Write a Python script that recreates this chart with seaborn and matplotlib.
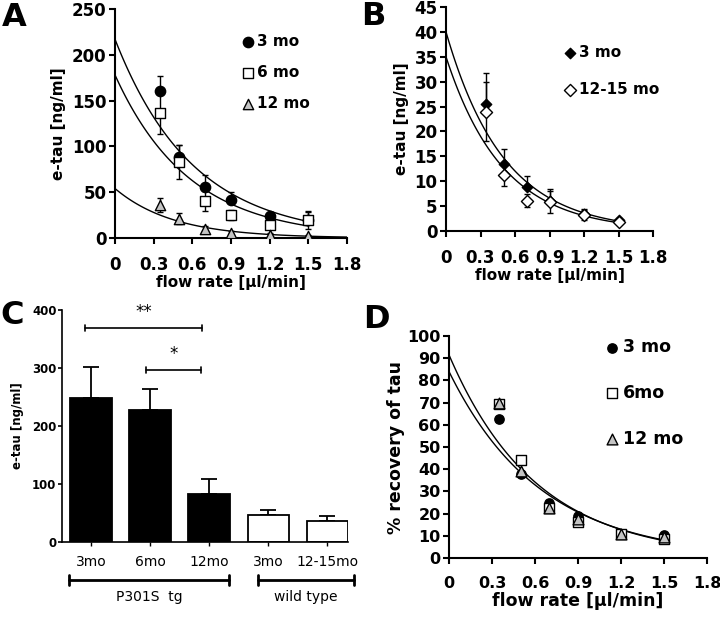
import numpy as np
import pandas as pd
import matplotlib
matplotlib.use("Agg")
import matplotlib.pyplot as plt
import matplotlib.transforms as mtransforms
import seaborn as sns

# flow rates used for the microdialysis probe (ul/min)
flow = [0.35, 0.5, 0.7, 0.9, 1.2, 1.5]

# panel A: e-tau in P301S tg mice (ng/ml)
a_3mo = [160, 88, 56, 41.5, 24, 20]
a_3mo_err = [17, 14, 12.5, 8.5, 4, 8]
a_6mo = [136, 83, 40, 25, 14, 19.5]
a_6mo_err = [22, 19, 11, 5.5, 3, 10]
a_12mo = [36, 21, 10, 6, 3, 2]
a_12mo_err = [8, 6, 3, 2, 2, 1.5]
# exponential trendlines: value at 0, decay rate, end of line
a_fit_amp = [217, 178, 54]
a_fit_rate = [1.66, 1.74, 2.2]
a_fit_end = [1.52, 1.5, 1.8]

# panel B: e-tau in wild type mice (ng/ml)
b_3mo = [25.5, 13.5, 8.8, 6.0, 3.5, 2.2]
b_3mo_err = [6.3, 3.0, 2.3, 2.4, 1.0, 0.4]
b_old = [24, 11.3, 6.1, 5.8, 3.2, 1.9]
b_old_err = [6, 2.3, 1.3, 2.2, 1.0, 0.3]
b_fit_amp = [40, 35]
b_fit_rate = [2.0, 2.03]
b_fit_end = [1.5, 1.5]

# panel C: extrapolated e-tau at zero flow
c_keys = ["tg 3mo", "tg 6mo", "tg 12mo", "wt 3mo", "wt 12-15mo"]
c_labels = ["3mo", "6mo", "12mo", "3mo", "12-15mo"]
c_vals = [249, 228, 82, 46, 36]
c_err = [53, 36, 27, 9, 8.5]

# panel D: % recovery of tau
d_3mo = [62.5, 38, 25, 19, 11, 10.5]
d_6mo = [69.5, 44, 22.5, 16, 11, 8.5]
d_12mo = [70, 39, 22.5, 17.5, 11, 9.5]
d_fit_amp = [91.5, 84]
d_fit_rate = [1.64, 1.56]
d_fit_end = [1.5, 1.5]

xtick_vals = [0, 0.3, 0.6, 0.9, 1.2, 1.5, 1.8]
xtick_labels = ["0", "0.3", "0.6", "0.9", "1.2", "1.5", "1.8"]


def curves(amps, rates, ends):
    rows = []
    for i, (a, k, e) in enumerate(zip(amps, rates, ends)):
        xs = np.linspace(0, e, 120)
        for x in xs:
            rows.append({"fit": i, "x": x, "y": a * np.exp(-k * x)})
    return pd.DataFrame(rows)


def style_axis(ax, fs, lw=1.5):
    sns.despine(ax=ax)
    for s in ["left", "bottom"]:
        ax.spines[s].set_linewidth(lw)
        ax.spines[s].set_color("black")
    ax.tick_params(axis="both", labelsize=fs, width=lw, length=4, color="black")
    for lab in ax.get_xticklabels() + ax.get_yticklabels():
        lab.set_fontweight("bold")


def flow_panel(ax, series, errs, fit, markers, faces, sizes, ylim, ystep, fs, leg):
    names = list(series.keys())
    for name in names:
        lo, hi = errs[name]
        if hi is None:
            continue
        ax.errorbar(flow, series[name], yerr=[lo, hi], fmt="none", ecolor="black",
                    elinewidth=1, capsize=2.2, capthick=1, zorder=1)
    sns.lineplot(data=fit, x="x", y="y", units="fit", estimator=None, color="black",
                 lw=1, ax=ax, legend=False, zorder=2)
    df = pd.DataFrame({"flow": flow * len(names),
                       "val": sum([list(series[n]) for n in names], []),
                       "age": sum([[n] * len(flow) for n in names], [])})
    for name in names:
        sub = df[df["age"] == name]
        sns.scatterplot(data=sub, x="flow", y="val", marker=markers[name], color=faces[name],
                        edgecolor="black", linewidth=1, s=sizes[name], ax=ax, label=name,
                        zorder=3)
    ax.set_xlim(0, 1.8)
    ax.set_ylim(0, ylim)
    ax.set_xticks(xtick_vals)
    ax.set_xticklabels(xtick_labels)
    ax.set_yticks(np.arange(0, ylim + 0.1, ystep))
    ax.set_xlabel("flow rate [\u00b5l/min]", fontsize=fs - 1, fontweight="bold", labelpad=1)
    style_axis(ax, fs)
    ax.tick_params(axis="x", pad=9)
    ax.tick_params(axis="y", pad=2)
    sns.move_legend(ax, "upper left", bbox_to_anchor=leg["anchor"], title=None, frameon=False,
                    prop={"weight": "bold", "size": leg["size"]}, labelspacing=leg["spacing"],
                    handletextpad=0.1, handlelength=1.0, borderaxespad=0, borderpad=0)


sns.set_style("ticks")
plt.rcParams["font.family"] = ["DejaVu Sans"]
plt.rcParams.update({"text.color": "black", "axes.labelcolor": "black",
                     "xtick.color": "black", "ytick.color": "black",
                     "axes.edgecolor": "black"})

fig = plt.figure(figsize=(7.2, 6.17), dpi=100)
axA = fig.add_axes([115 / 720, 1 - 238 / 617, 232 / 720, 229 / 617])
axB = fig.add_axes([446 / 720, 1 - 231 / 617, 207 / 720, 224 / 617])
axC = fig.add_axes([62 / 720, 1 - 542 / 617, 286 / 720, 232 / 617])
axD = fig.add_axes([449 / 720, 1 - 558 / 617, 258 / 720, 222 / 617])

grey = "#c4c4c4"

# ---- A
flow_panel(axA,
           {"3 mo": a_3mo, "6 mo": a_6mo, "12 mo": a_12mo},
           {"3 mo": ([0] * 6, a_3mo_err), "6 mo": (a_6mo_err, a_6mo_err),
            "12 mo": (a_12mo_err, a_12mo_err)},
           curves(a_fit_amp, a_fit_rate, a_fit_end),
           {"3 mo": "o", "6 mo": "s", "12 mo": "^"},
           {"3 mo": "black", "6 mo": "white", "12 mo": grey},
           {"3 mo": 55, "6 mo": 55, "12 mo": 55},
           250, 50, 12,
           {"anchor": (0.54, 0.89), "size": 11, "spacing": 1.05})
axA.set_ylabel("e-tau [ng/ml]", fontsize=11, fontweight="bold", labelpad=4)

# ---- B
flow_panel(axB,
           {"3 mo": b_3mo, "12-15 mo": b_old},
           {"3 mo": ([0] * 6, b_3mo_err), "12-15 mo": (b_old_err, b_old_err)},
           curves(b_fit_amp, b_fit_rate, b_fit_end),
           {"3 mo": "D", "12-15 mo": "D"},
           {"3 mo": "black", "12-15 mo": "white"},
           {"3 mo": 28, "12-15 mo": 38},
           45, 5, 12,
           {"anchor": (0.56, 0.83), "size": 11, "spacing": 1.45})
axB.set_ylabel("e-tau [ng/ml]", fontsize=11, fontweight="bold", labelpad=4)

# ---- C
cdf = pd.DataFrame({"cond": c_keys, "val": c_vals})
pal = {k: ("black" if k.startswith("tg") else "white") for k in c_keys}
sns.barplot(data=cdf, x="cond", y="val", hue="cond", palette=pal, order=c_keys,
            edgecolor="black", linewidth=1.3, width=0.7, legend=False, ax=axC, zorder=2)
axC.errorbar(range(len(c_keys)), c_vals, yerr=[[0] * len(c_err), c_err], fmt="none",
             ecolor="black", elinewidth=1.3, capsize=6, capthick=1.3, zorder=1)
axC.set_xlim(-0.49, 4.35)
axC.set_ylim(0, 400)
axC.set_yticks([0, 100, 200, 300, 400])
axC.set_xticks(range(len(c_keys)))
axC.set_xticklabels(c_labels)
axC.set_xlabel("")
axC.set_ylabel("e-tau [ng/ml]", fontsize=8.5, fontweight="bold", labelpad=6)
sns.despine(ax=axC)
for s in ["left", "bottom"]:
    axC.spines[s].set_linewidth(1.2)
axC.tick_params(axis="y", labelsize=8.5, width=1.2, length=3, pad=1)
axC.tick_params(axis="x", labelsize=10, width=1, length=3, pad=6)
for lab in axC.get_yticklabels():
    lab.set_fontweight("bold")

# significance brackets
for x0, x1, y, txt in [(-0.1, 1.88, 369, "**"), (0.93, 1.87, 297, "*")]:
    axC.plot([x0, x1], [y, y], color="black", lw=1.2, clip_on=False)
    for xe in (x0, x1):
        axC.plot([xe, xe], [y - 5, y + 5], color="black", lw=1.2, clip_on=False)
    axC.text((x0 + x1) / 2, y + 12, txt, ha="center", va="bottom", fontsize=12)

# genotype brackets below the axis
tr = mtransforms.blended_transform_factory(axC.transData, axC.transAxes)
for x0, x1, txt in [(-0.37, 2.34, "P301S  tg"), (2.82, 4.45, "wild type")]:
    axC.plot([x0, x1], [-0.164, -0.164], color="black", lw=2, transform=tr, clip_on=False)
    for xe in (x0, x1):
        axC.plot([xe, xe], [-0.185, -0.143], color="black", lw=2, transform=tr, clip_on=False)
    axC.text((x0 + x1) / 2, -0.205, txt, ha="center", va="top", fontsize=10, transform=tr)

# ---- D
flow_panel(axD,
           {"3 mo": d_3mo, "6mo": d_6mo, "12 mo": d_12mo},
           {"3 mo": (None, None), "6mo": (None, None), "12 mo": (None, None)},
           curves(d_fit_amp, d_fit_rate, d_fit_end),
           {"3 mo": "o", "6mo": "s", "12 mo": "^"},
           {"3 mo": "black", "6mo": "white", "12 mo": grey},
           {"3 mo": 45, "6mo": 60, "12 mo": 60},
           100, 10, 11.5,
           {"anchor": (0.6, 0.99), "size": 12.5, "spacing": 1.6})
axD.set_ylabel("% recovery of tau", fontsize=12.5, fontweight="bold", labelpad=2)
axD.set_xlabel("flow rate [\u00b5l/min]", fontsize=12.5, fontweight="bold", labelpad=1)

# panel letters
for x, y, letter in [(0.002, 0.997, "A"), (0.502, 0.999, "B"), (0.0, 0.513, "C"), (0.505, 0.508, "D")]:
    fig.text(x, y, letter, fontsize=23, fontweight="bold", va="top", ha="left")

fig.savefig("out.png", dpi=100)
